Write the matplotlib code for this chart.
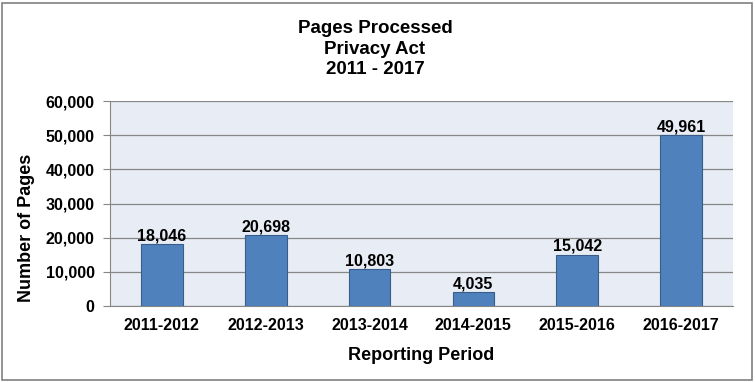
import matplotlib
matplotlib.use("Agg")
import matplotlib.pyplot as plt
from matplotlib.patches import Rectangle

categories = ["2011-2012", "2012-2013", "2013-2014", "2014-2015", "2015-2016", "2016-2017"]
values = [18046, 20698, 10803, 4035, 15042, 49961]
yticks = [0, 10000, 20000, 30000, 40000, 50000, 60000]

plt.rcParams['font.family'] = ['Liberation Sans', 'DejaVu Sans']
plt.rcParams['font.weight'] = 'bold'

W, H = 755, 382
fig = plt.figure(figsize=(W/100, H/100), dpi=100)
fig.patch.set_facecolor('white')
fig.patches.append(Rectangle((2/W, 2/H), (W-5)/W, (H-5)/H, transform=fig.transFigure,
                             fill=False, edgecolor='#808080', linewidth=1.2))

left, right, top, bottom = 110, 733, 101, 306
ax = fig.add_axes([left/W, 1-bottom/H, (right-left)/W, (bottom-top)/H])
ax.set_facecolor('#E8ECF4')

x = range(len(categories))
ax.bar(x, values, width=0.4, color='#4F81BD', edgecolor='#385D8A', linewidth=0.8, zorder=3)
for xi, v in zip(x, values):
    ax.text(xi, v + 250, f"{v:,}", ha='center', va='bottom', fontsize=11.5, fontweight='bold', zorder=4)

ax.set_xlim(-0.5, len(categories) - 0.5)
ax.set_ylim(0, 60000)
ax.set_yticks(yticks)
ax.set_yticklabels([f"{t:,}" for t in yticks], fontsize=11.5, fontweight='bold')
ax.set_xticks(list(x))
ax.set_xticklabels(categories, fontsize=11.5, fontweight='bold')
ax.yaxis.grid(True, color='#868686', linewidth=0.9, zorder=0)
ax.set_axisbelow(True)
for s in ['top', 'right']:
    ax.spines[s].set_visible(False)
ax.spines['left'].set_color('#868686')
ax.spines['bottom'].set_color('#868686')
ax.tick_params(axis='y', length=5, color='#868686', pad=6)
ax.tick_params(axis='x', length=0, pad=9)

fig.text(27/W, 1 - 228/H, "Number of Pages", rotation=90, ha='center', va='center',
         fontsize=13, fontweight='bold')
fig.text((left + right) / 2 / W, 1 - 355/H, "Reporting Period", ha='center', va='center',
         fontsize=13, fontweight='bold')

fig.text(375/W, 1 - 49/H, "Pages Processed\nPrivacy Act\n2011 - 2017",
         ha='center', va='center', fontsize=13.5, fontweight='bold', linespacing=1.3)

fig.savefig("out.png", dpi=100)
